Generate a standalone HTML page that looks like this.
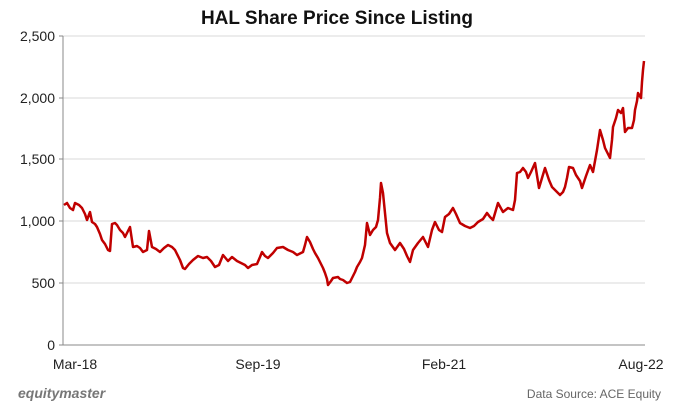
<!DOCTYPE html>
<html><head><style>
body{margin:0;background:#fff;}
svg{display:block;font-family:"Liberation Sans",Arial,sans-serif;}
</style></head><body>
<svg width="675" height="410" viewBox="0 0 675 410">
<rect width="675" height="410" fill="#fff"/>
<text x="337" y="24" text-anchor="middle" font-size="19" font-weight="bold" fill="#111">HAL Share Price Since Listing</text>
<g stroke="#d9d9d9" stroke-width="1">
<line x1="63" y1="36" x2="645" y2="36"/>
<line x1="63" y1="98" x2="645" y2="98"/>
<line x1="63" y1="159" x2="645" y2="159"/>
<line x1="63" y1="221" x2="645" y2="221"/>
<line x1="63" y1="283" x2="645" y2="283"/>
</g>
<line x1="63" y1="345" x2="645" y2="345" stroke="#888" stroke-width="1"/>
<line x1="63" y1="36" x2="63" y2="345" stroke="#888" stroke-width="1"/>
<g stroke="#888"><line x1="59" y1="36" x2="63" y2="36"/><line x1="59" y1="98" x2="63" y2="98"/><line x1="59" y1="159" x2="63" y2="159"/><line x1="59" y1="221" x2="63" y2="221"/><line x1="59" y1="283" x2="63" y2="283"/><line x1="59" y1="345" x2="63" y2="345"/></g>
<g font-size="14" fill="#222" text-anchor="end">
<text x="55" y="41">2,500</text><text x="55" y="103">2,000</text><text x="55" y="164">1,500</text><text x="55" y="226">1,000</text><text x="55" y="288">500</text><text x="55" y="350">0</text>
</g>
<g font-size="14" fill="#222" text-anchor="middle">
<text x="75" y="369">Mar-18</text><text x="258" y="369">Sep-19</text><text x="444" y="369">Feb-21</text><text x="641" y="369">Aug-22</text>
</g>
<polyline fill="none" stroke="#c00000" stroke-width="2.5" stroke-linejoin="round" points="
64,205 67,203 70,208 73,210 75,203 79,205 82,208 85,214 87,220 90,212 92,222 95,224 97,227 100,234 102,240 105,244 108,250 110,251 112,224 115,223 117,225 120,230 123,233 125,237 128,231 130,227 133,247 137,246 140,248 143,252 147,250 149,231 152,247 156,249 160,252 164,248 168,245 172,247 175,250 180,260 183,268 185,269 189,264 193,260 198,256 203,258 207,257 211,261 215,267 219,265 223,255 228,261 232,257 237,261 241,263 245,265 248,268 252,265 257,264 260,257 262,252 265,256 268,258 273,253 277,248 283,247 288,250 293,252 297,255 303,252 305,245 307,237 310,242 313,249 315,253 318,258 320,262 323,268 325,273 327,279 328,285 331,281 333,278 338,277 340,279 343,280 347,283 350,282 352,278 355,272 357,267 360,262 362,258 365,245 367,223 370,235 373,230 376,227 378,220 380,198 381,183 383,193 385,213 387,233 390,243 395,250 400,243 404,249 407,256 410,262 413,250 418,243 423,237 428,247 432,230 435,222 439,230 442,232 445,217 449,214 453,208 456,214 460,223 465,226 470,228 474,226 478,222 483,219 487,213 490,217 493,220 498,203 503,212 508,208 513,210 515,200 517,173 520,172 523,168 526,172 528,178 531,172 535,163 539,188 542,178 545,168 549,180 552,187 556,191 560,195 563,192 565,187 567,178 569,167 573,168 576,175 580,181 582,188 586,176 590,165 593,172 597,150 600,130 603,140 605,148 608,154 610,158 612,140 613,127 616,118 618,110 621,113 623,108 625,132 628,128 632,128 634,120 635,110 637,101 638,93 641,98 642,82 643,70 644,61"/>
<text x="18" y="398" font-size="14" font-weight="bold" font-style="italic" fill="#777">equitymaster</text>
<text x="661" y="398" font-size="12" fill="#666" text-anchor="end">Data Source: ACE Equity</text>
</svg>
</body></html>
